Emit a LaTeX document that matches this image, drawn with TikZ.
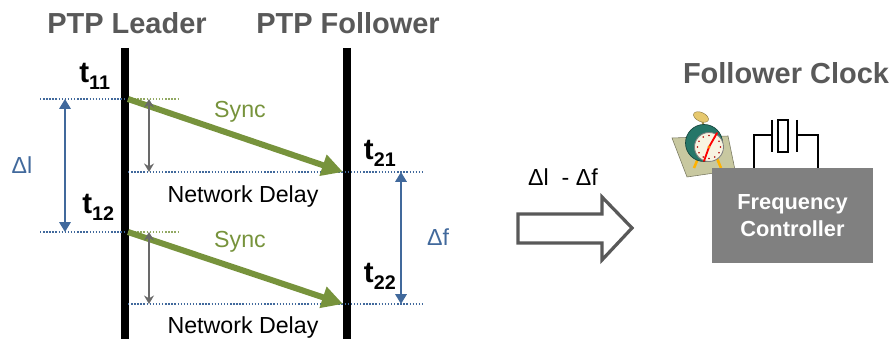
\documentclass[tikz,border=0pt]{standalone}
\usepackage{fontspec}
\setmainfont{Liberation Sans}
\usetikzlibrary{arrows.meta}

\definecolor{titlegray}{RGB}{89,89,89}
\definecolor{syncgreen}{RGB}{119,147,60}
\definecolor{deltablue}{RGB}{65,105,156}
\definecolor{delaygray}{RGB}{105,105,105}
\definecolor{boxgray}{RGB}{128,128,128}
\definecolor{paper}{RGB}{200,200,160}
\definecolor{ringteal}{RGB}{38,118,104}
\definecolor{face}{RGB}{248,244,225}
\definecolor{bell}{RGB}{230,200,110}

% timestamp with a small subscript
\newcommand{\tstamp}[1]{t\raisebox{-0.4ex}{\fontsize{14}{14}\selectfont#1}}

\begin{document}
\begin{tikzpicture}[x=0.025cm,y=-0.025cm,
  title/.style={font=\fontsize{20.6}{24}\selectfont\bfseries,text=titlegray},
  stamp/.style={font=\fontsize{21}{24}\selectfont\bfseries},
  txt/.style={font=\fontsize{16.5}{20}\selectfont},
  sync/.style={line width=4.3pt,draw=syncgreen,-{Triangle[length=15pt,width=15pt]}},
  delay/.style={line width=1pt,draw=delaygray,{Stealth[length=6pt,width=7pt]}-{Stealth[length=6pt,width=7pt]}},
  span/.style={line width=1.6pt,draw=deltablue,{Triangle[length=7pt,width=8pt]}-{Triangle[length=7pt,width=8pt]}},
  bluemark/.style={line width=0.8pt,draw=deltablue,dash pattern=on 1pt off 1.2pt},
  greenmark/.style={line width=0.8pt,draw=syncgreen!80,dash pattern=on 1pt off 1.2pt}]
\useasboundingbox (0,0) rectangle (891,339);

% headings
\node[title] (leader) at (127,23) {PTP Leader};
\node[title] (follower) at (348,23) {PTP Follower};
\node[title] (clock) at (786,73) {Follower Clock};

% time lines
\coordinate (leadtop) at (125,48);
\coordinate (leadbot) at (125,339);
\coordinate (foltop) at (347,48);
\coordinate (folbot) at (347,339);
\draw[line width=5pt] (leadtop) -- (leadbot);
\draw[line width=5pt] (foltop) -- (folbot);

% event points
\coordinate (t11) at (128,99);
\coordinate (t21) at (343,172);
\coordinate (t12) at (128,232);
\coordinate (t22) at (343,304);

% dotted marks
\coordinate (m11) at (40,99);
\coordinate (g11) at (180,99);
\coordinate (m12) at (40,232);
\coordinate (g12) at (180,232);
\coordinate (m21a) at (128,172);
\coordinate (m21b) at (422,172);
\coordinate (m22a) at (128,304);
\coordinate (m22b) at (422,304);
\draw[bluemark] (m11) -- (leadtop |- m11);
\draw[greenmark] (t11) -- (g11);
\draw[bluemark] (m12) -- (leadtop |- m12);
\draw[greenmark] (t12) -- (g12);
\draw[bluemark] (m21a) -- (m21b);
\draw[bluemark] (m22a) -- (m22b);

% sync messages
\draw[sync] (t11) -- (t21);
\draw[sync] (t12) -- (t22);
\node[txt,text=syncgreen] (sync1) at (240,112) {Sync};
\node[txt,text=syncgreen] (sync2) at (240,242) {Sync};

% network delay
\coordinate (d1a) at (149,99);
\coordinate (d1b) at (149,172);
\coordinate (d2a) at (149,232);
\coordinate (d2b) at (149,304);
\draw[delay] (d1a) -- (d1b);
\draw[delay] (d2a) -- (d2b);
\node[txt] (nd1) at (243,197) {Network Delay};
\node[txt] (nd2) at (243,327) {Network Delay};

% timestamps
\node[stamp,anchor=base east] (s11) at (115,83) {\tstamp{11}};
\node[stamp,anchor=base east] (s12) at (119,214) {\tstamp{12}};
\node[stamp,anchor=base west] (s21) at (359,160) {\tstamp{21}};
\node[stamp,anchor=base west] (s22) at (359,283) {\tstamp{22}};

% leader and follower intervals
\coordinate (dla) at (65,99);
\coordinate (dlb) at (65,232);
\coordinate (dfa) at (401,172);
\coordinate (dfb) at (401,304);
\draw[span] (dla) -- (dlb);
\draw[span] (dfa) -- (dfb);
\node[txt,text=deltablue] (dl) at (22,165) {Δl};
\node[txt,text=deltablue] (df) at (438,237) {Δf};

% correction into the clock
\node[txt] (diff) at (563,177) {Δl\ \ - Δf};
\draw[line width=2.3pt,draw=titlegray,fill=white,line join=miter]
  (518,214) -- (602,214) -- (602,197) -- (632,228) -- (602,260) -- (602,243) -- (518,243) -- cycle;

% alarm clock
\draw[fill=paper,draw=paper!60!black,line width=0.4pt] (672,138) -- (728,136) -- (735,170) -- (687,177) -- cycle;
\draw[line width=1.8pt,draw=orange!60!yellow] (699,156) -- (694,168);
\draw[line width=1.8pt,draw=orange!60!yellow] (716,156) -- (721,168);
\draw[line width=1.4pt,draw=bell!70!black] (704,127) -- (702,120);
\draw[fill=bell,draw=bell!60!black,line width=0.3pt,rotate around={-25:(701,117)}] (701,117) ellipse (8 and 4.5);
\draw[fill=ringteal,draw=ringteal!60!black,line width=0.5pt] (704,143) circle (18.5);
\draw[fill=face,draw=black!50,line width=0.6pt] (709,147) circle (14.5);
\foreach \a in {0,30,...,330}
  \fill[red!70!black,shift={(709,147)}] (\a:11.5) circle (0.9);
\draw[red,line width=1.3pt,line cap=round] (709,147) -- (717,133);
\draw[red,line width=1.3pt,line cap=round] (709,147) -- (704,161);
\fill[orange] (709,147) circle (1.7);

% frequency controller
\node[fill=boxgray,minimum width=4.025cm,minimum height=2.375cm,align=center,
  text=white,font=\fontsize{15.5}{19}\selectfont\bfseries] (ctrl) at (792.5,215.5) {Frequency\\Controller};

% crystal oscillator
\draw[line width=2.1pt] (754,168) -- (754,135) -- (772,135);
\draw[line width=2.1pt] (772,120) -- (772,152);
\draw[line width=2.1pt] (778,120) rectangle (788,152);
\draw[line width=2.1pt] (797,120) -- (797,152);
\draw[line width=2.1pt] (797,135) -- (818,135) -- (818,168);

\end{tikzpicture}
\end{document}
